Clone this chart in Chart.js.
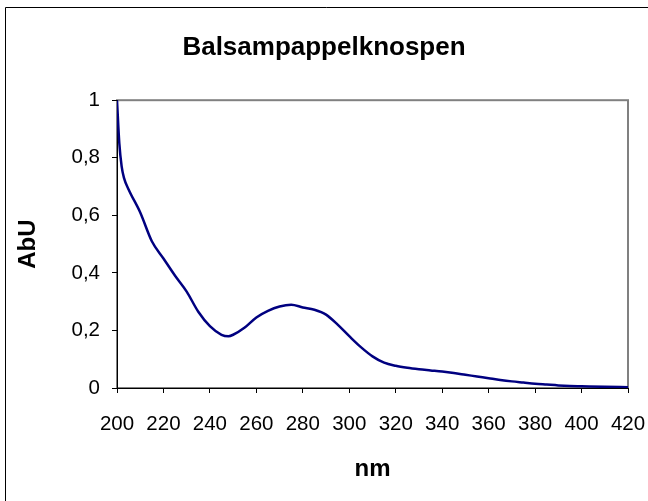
<!DOCTYPE html>
<html>
<head>
<meta charset="utf-8">
<script src="https://cdn.jsdelivr.net/npm/chart.js@4/dist/chart.umd.min.js"></script>
<style>
html,body{margin:0;padding:0;background:#fff;}
#wrap{width:648px;height:501px;position:relative;}
</style>
</head>
<body>
<div id="wrap"><canvas id="c" width="648" height="501"></canvas></div>
<script>
// spectrum (nm / AbU)
const wavelengths=[200,201,202,203,205,210,215,220,225,230,235,240,245,248,250,255,260,265,270,275,280,285,290,295,300,305,310,315,320,325,330,335,340,345,350,355,360,365,370,375,380,385,390,395,400,410,420];
const absorbance=[1.0,0.85,0.77,0.73,0.69,0.61,0.51,0.45,0.39,0.335,0.265,0.215,0.185,0.18,0.185,0.21,0.245,0.268,0.283,0.289,0.28,0.272,0.255,0.22,0.18,0.142,0.11,0.088,0.077,0.07,0.065,0.061,0.057,0.052,0.046,0.04,0.034,0.028,0.023,0.019,0.015,0.012,0.009,0.007,0.006,0.004,0.003];
const xTicks=[200,220,240,260,280,300,320,340,360,380,400,420];
const yTicks=[0,0.2,0.4,0.6,0.8,1];

const FONT='"Liberation Sans", Arial, sans-serif';
const frame={id:'frame',
  beforeDraw(ch){const c=ch.ctx,a=ch.chartArea;c.save();
    c.fillStyle='#fff';c.fillRect(0,0,ch.width,ch.height);
    // outer chart border, only top and left show in the picture
    c.strokeStyle='#000';c.lineWidth=1;c.beginPath();c.moveTo(5.5,ch.height);c.lineTo(5.5,7.5);c.lineTo(ch.width,7.5);c.stroke();
    c.strokeStyle='#808080';c.lineWidth=2;c.strokeRect(a.left,a.top,a.right-a.left,a.bottom-a.top);
    c.restore();}
};

new Chart(document.getElementById('c'),{
  type:'line',
  data:{datasets:[{data:wavelengths.map((x,i)=>({x,y:absorbance[i]})),borderColor:'#000080',borderWidth:2.5,pointRadius:0,tension:0.4,cubicInterpolationMode:'monotone',fill:false}]},
  options:{responsive:false,animation:false,
    layout:{padding:0},
    plugins:{legend:{display:false},tooltip:{enabled:false},
      title:{display:true,text:'Balsampappelknospen',color:'#000',font:{family:FONT,size:26,weight:'bold'},padding:{top:32,bottom:37}}},
    scales:{
      x:{type:'linear',min:200,max:420,
        afterBuildTicks(s){s.ticks=xTicks.map(v=>({value:v}));},
        afterFit(s){s.height=113;s.paddingRight=20;},
        ticks:{color:'#000',font:{family:FONT,size:20.5},padding:19,maxRotation:0,autoSkip:false},
        grid:{drawOnChartArea:false,drawTicks:true,tickLength:5,color:'#000'},
        border:{color:'#000',width:1},
        title:{display:true,text:'nm',color:'#000',font:{family:FONT,size:24,weight:'bold'},padding:{top:4,bottom:17}}},
      y:{min:0,max:1,
        afterBuildTicks(s){s.ticks=yTicks.map(v=>({value:v}));},
        afterFit(s){s.width=117;},
        ticks:{color:'#000',font:{family:FONT,size:20.5},padding:12,callback:v=>String(Math.round(v*10)/10).replace('.',',')},
        grid:{drawOnChartArea:false,drawTicks:true,tickLength:5,color:'#000'},
        border:{color:'#000',width:1},
        title:{display:true,text:'AbU',color:'#000',font:{family:FONT,size:24,weight:'bold'},padding:{top:14,bottom:4}}}
    }
  },
  plugins:[frame]
});
</script>
</body>
</html>
